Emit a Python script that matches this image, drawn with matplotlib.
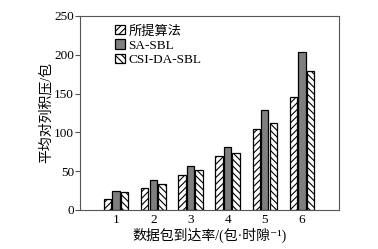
import numpy as np
import matplotlib.pyplot as plt

plt.rcParams['font.family'] = ['Liberation Serif', 'Noto Sans CJK SC', 'DejaVu Serif']
plt.rcParams['hatch.linewidth'] = 0.8

rates = [1, 2, 3, 4, 5, 6]
proposed = [14, 28, 45, 69, 104, 146]
sa_sbl = [25, 39, 56, 81, 129, 204]
csi_da_sbl = [23, 34, 51, 73, 112, 179]

fig = plt.figure(figsize=(3.78, 2.49), dpi=100)
ax = fig.add_axes([0.212, 0.157, 0.685, 0.779])

x = np.array(rates)
w = 0.2
ax.bar(x - 0.23, proposed, w, facecolor='white', edgecolor='black', hatch='/////', lw=0.9, label='所提算法')
ax.bar(x, sa_sbl, w, facecolor='#7f7f7f', edgecolor='black', lw=0.9, label='SA-SBL')
ax.bar(x + 0.23, csi_da_sbl, w, facecolor='white', edgecolor='black', hatch='\\\\\\\\\\', lw=0.9, label='CSI-DA-SBL')

ax.set_xlim(0.03, 7.0)
ax.set_ylim(0, 250)
ax.set_xticks(rates)
ax.set_yticks([0, 50, 100, 150, 200, 250])
ax.tick_params(axis='x', length=0, labelsize=9.5, pad=3)
ax.tick_params(axis='y', length=3.5, width=0.8, color='#555555', labelsize=9.5, pad=1)
for s in ax.spines.values():
    s.set_linewidth(0.8)
    s.set_color('#555555')

ax.set_ylabel('平均对列积压/包', fontsize=10, labelpad=1)
ax.set_xlabel('数据包到达率/(包·时隙⁻¹)', fontsize=10, labelpad=1)

ax.legend(loc='upper left', bbox_to_anchor=(0.1, 1.0), frameon=False, fontsize=9.5,
          handlelength=0.7, handleheight=0.7, handletextpad=0.3, labelspacing=0.15,
          borderaxespad=0.3)

fig.savefig('out.png', dpi=100)
